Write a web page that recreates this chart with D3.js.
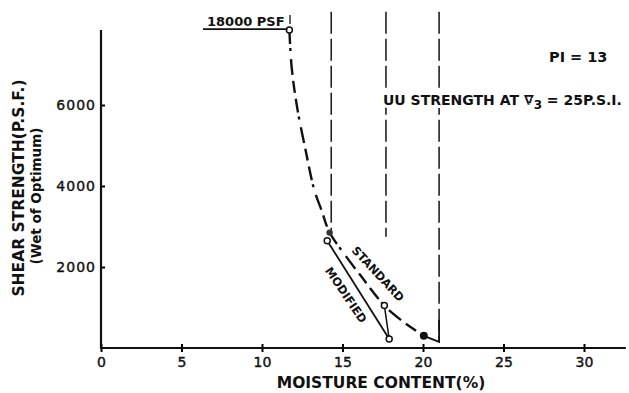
<!DOCTYPE html>
<html>
<head>
<meta charset="utf-8">
<script src="https://cdn.jsdelivr.net/npm/d3@7"></script>
<style>
  body { margin: 0; background: #fff; }
  text { font-family: "DejaVu Sans", sans-serif; fill: #111; }
</style>
</head>
<body>
<div class="chart"></div>
<script>
// values
var xTicks = [0, 5, 10, 15, 20, 25, 30];
var yTicks = [2000, 4000, 6000];

// standard compaction curve (wet of optimum)
var standardMoisture = [11.7, 11.85, 12.2, 12.7, 13.25, 13.7, 14.2, 15.15, 16.1, 17.6, 18.6, 20.05];
var standardStrength = [7850, 6900, 5900, 4900, 3900, 3400, 2850, 2300, 1800, 1050, 700, 300];

// modified compaction points
var modifiedMoisture = [14.05, 17.9];
var modifiedStrength = [2650, 220];

// vertical limit lines: moisture and where they stop
var limitMoisture = [14.3, 17.7, 21.0];
var limitBottom = [2850, 2750, 150];

var width = 629, height = 393;
var svg = d3.select(".chart").append("svg").attr("width", width).attr("height", height);

var x = d3.scaleLinear().domain([0, 30]).range([101, 584]);
var y = d3.scaleLinear().domain([0, 2000]).range([348, 267]);

// axes
var xAxis = svg.append("g").attr("transform", "translate(0," + y(0) + ")")
    .call(d3.axisBottom(x).tickValues(xTicks).tickSize(4).tickFormat(function(d){ return d; }));
xAxis.select(".domain").remove();
xAxis.selectAll(".tick line").attr("y1", -4).attr("stroke-width", 2);
xAxis.selectAll(".tick text").attr("y", 9).style("font-size", "14px").style("font-family", "DejaVu Sans")
    .attr("stroke", "#111").attr("stroke-width", 0.4);

var yAxis = svg.append("g").attr("transform", "translate(" + x(0) + ",0)")
    .call(d3.axisLeft(y).tickValues(yTicks).tickSize(4).tickFormat(function(d){ return d; }));
yAxis.select(".domain").remove();
yAxis.selectAll(".tick line").attr("x2", 4).attr("stroke-width", 2);
yAxis.selectAll(".tick text").attr("x", -5).style("font-size", "14px").style("font-family", "DejaVu Sans")
    .style("letter-spacing", "1px").attr("stroke", "#111").attr("stroke-width", 0.4);

svg.append("line").attr("x1", x(0) - 1).attr("x2", x(32.6)).attr("y1", y(0)).attr("y2", y(0))
    .attr("stroke", "#111").attr("stroke-width", 2);
svg.append("line").attr("x1", x(0)).attr("x2", x(0)).attr("y1", y(0)).attr("y2", y(7850))
    .attr("stroke", "#111").attr("stroke-width", 2.2);

// vertical dashed limit lines
limitMoisture.forEach(function(m, i) {
    svg.append("line").attr("x1", x(m)).attr("x2", x(m))
        .attr("y1", y(8300)).attr("y2", y(limitBottom[i]))
        .attr("stroke", "#222").attr("stroke-width", 1.6)
        .attr("stroke-dasharray", "22,5");
});

// standard curve
var pts = standardMoisture.map(function(m, i) { return [m, standardStrength[i]]; });
var line = d3.line().x(function(d){ return x(d[0]); }).y(function(d){ return y(d[1]); })
    .curve(d3.curveCatmullRom);
svg.append("path").attr("d", line(pts)).attr("fill", "none")
    .attr("stroke", "#111").attr("stroke-width", 2.4)
    .attr("stroke-dasharray", "14,4,3,8,16,6,12,6");

// hook from last point to the right limit line
svg.append("path")
    .attr("d", "M" + x(standardMoisture[11]) + "," + y(standardStrength[11]) +
               "L" + x(limitMoisture[2]) + "," + y(limitBottom[2]) +
               "L" + x(limitMoisture[2]) + "," + y(700))
    .attr("fill", "none").attr("stroke", "#111").attr("stroke-width", 1.8);

// modified line and connector
svg.append("line").attr("x1", x(modifiedMoisture[0])).attr("y1", y(modifiedStrength[0]))
    .attr("x2", x(modifiedMoisture[1])).attr("y2", y(modifiedStrength[1]))
    .attr("stroke", "#111").attr("stroke-width", 1.8);
svg.append("line").attr("x1", x(standardMoisture[9])).attr("y1", y(standardStrength[9]))
    .attr("x2", x(modifiedMoisture[1])).attr("y2", y(modifiedStrength[1]))
    .attr("stroke", "#111").attr("stroke-width", 1.5);

// markers
function openDot(m, s) {
    svg.append("circle").attr("cx", x(m)).attr("cy", y(s)).attr("r", 3)
        .attr("fill", "#fff").attr("stroke", "#111").attr("stroke-width", 1.5);
}
openDot(standardMoisture[0], standardStrength[0]);
openDot(standardMoisture[9], standardStrength[9]);
openDot(modifiedMoisture[0], modifiedStrength[0]);
openDot(modifiedMoisture[1], modifiedStrength[1]);
svg.append("circle").attr("cx", x(standardMoisture[6])).attr("cy", y(standardStrength[6])).attr("r", 3.2)
    .attr("fill", "#333");
svg.append("circle").attr("cx", x(standardMoisture[11])).attr("cy", y(standardStrength[11])).attr("r", 4)
    .attr("fill", "#111");

// 18000 psf note
svg.append("line").attr("x1", 203).attr("x2", x(standardMoisture[0]) - 2)
    .attr("y1", y(standardStrength[0]) - 1).attr("y2", y(standardStrength[0]) - 1)
    .attr("stroke", "#111").attr("stroke-width", 1.6);
svg.append("text").attr("x", 207).attr("y", 26).text("18000 PSF")
    .style("font-size", "13px").style("font-weight", "bold");
svg.append("line").attr("x1", 290).attr("x2", 290).attr("y1", 15).attr("y2", 24)
    .attr("stroke", "#111").attr("stroke-width", 1.3);

// annotations
svg.append("text").attr("x", 549).attr("y", 62).text("PI = 13")
    .style("font-size", "14.5px").style("font-weight", "bold");

var uu = svg.append("text").attr("x", 383).attr("y", 105)
    .style("font-size", "14px").style("font-weight", "bold")
    .attr("stroke", "#fff").attr("stroke-width", 6).attr("paint-order", "stroke");
uu.append("tspan").text("UU STRENGTH  AT ");
uu.append("tspan").text("∇");
uu.append("tspan").attr("dy", 4).style("font-size", "12px").text("3");
uu.append("tspan").attr("dy", -4).text(" = 25P.S.I.");

svg.append("text").attr("transform", "translate(378,274) rotate(47)")
    .attr("text-anchor", "middle").attr("dy", "0.35em").text("STANDARD")
    .style("font-size", "11.5px").style("font-weight", "bold")
    .attr("stroke", "#fff").attr("stroke-width", 4).attr("paint-order", "stroke");
svg.append("text").attr("transform", "translate(346,295) rotate(56)")
    .attr("text-anchor", "middle").attr("dy", "0.35em").text("MODIFIED")
    .style("font-size", "11.5px").style("font-weight", "bold")
    .attr("stroke", "#fff").attr("stroke-width", 4).attr("paint-order", "stroke");

// axis titles
svg.append("text").attr("x", 381).attr("y", 388).attr("text-anchor", "middle")
    .text("MOISTURE CONTENT(%)").style("font-size", "15.5px").style("font-weight", "bold");
svg.append("text").attr("transform", "translate(24,188) rotate(-90)").attr("text-anchor", "middle")
    .text("SHEAR STRENGTH(P.S.F.)").style("font-size", "15.5px").style("font-weight", "bold");
svg.append("text").attr("transform", "translate(41,196) rotate(-90)").attr("text-anchor", "middle")
    .text("(Wet of Optimum)").style("font-size", "13.5px").style("font-weight", "bold");
</script>
</body>
</html>
